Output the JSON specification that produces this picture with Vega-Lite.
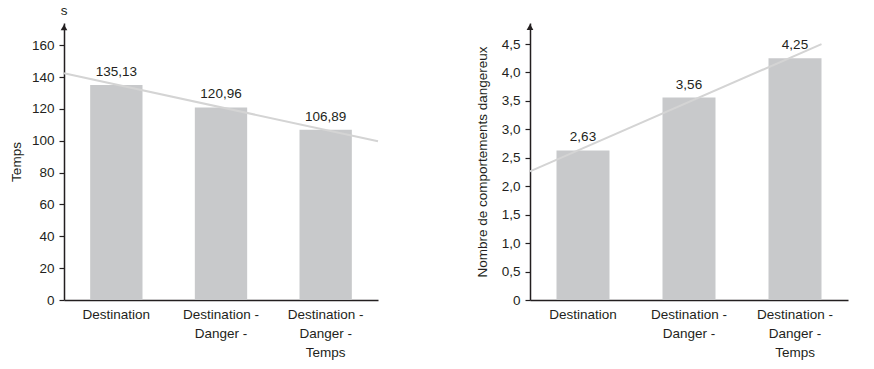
{
  "$schema": "https://vega.github.io/schema/vega-lite/v6.json",
  "padding": {"left": 9, "top": 4, "right": 5, "bottom": 5},
  "spacing": 93,
  "config": {
    "view": {"stroke": null},
    "font": "Liberation Sans",
    "locale": {"number": {"decimal": ",", "thousands": " ", "grouping": [3], "currency": ["", " €"]}},
    "axis": {
      "domainColor": "#231f20", "tickColor": "#231f20", "labelColor": "#231f20", "titleColor": "#231f20",
      "labelFont": "Liberation Sans", "titleFont": "Liberation Sans",
      "labelFontSize": 13.5, "titleFontSize": 13.5, "titleFontWeight": "normal", "labelOverlap": false,
      "grid": false, "domainWidth": 1.5, "tickWidth": 1.2, "tickSize": 5
    },
    "text": {"font": "Liberation Sans", "fontSize": 13.5, "color": "#231f20"}
  },
  "datasets": {
    "temps": [
      {"condition": "Destination", "value": 135.13},
      {"condition": "Destination - Danger -", "value": 120.96},
      {"condition": "Destination - Danger - Temps", "value": 106.89}
    ],
    "temps_trend": [{"pos": 0, "value": 142.4}, {"pos": 3, "value": 99.7}],
    "temps_marks": [{"pos": 0, "value": 171.3}],
    "temps_unit": [{"pos": 0, "value": 181.3, "unit": "s"}],
    "comp": [
      {"condition": "Destination", "value": 2.63},
      {"condition": "Destination - Danger -", "value": 3.56},
      {"condition": "Destination - Danger - Temps", "value": 4.25}
    ],
    "comp_trend": [{"pos": 0, "value": 2.26}, {"pos": 2.75, "value": 4.5}],
    "comp_marks": [{"pos": 0, "value": 4.8}]
  },
  "hconcat": [
    {
      "width": 314,
      "height": 277,
      "encoding": {
        "y": {
          "field": "value", "type": "quantitative",
          "scale": {"domain": [0, 174], "nice": false},
          "axis": {"title": "Temps", "values": [0, 20, 40, 60, 80, 100, 120, 140, 160], "tickCount": 9, "labelOverlap": false, "titlePadding": 8, "labelPadding": 5}
        }
      },
      "layer": [
        {
          "data": {"name": "temps"},
          "encoding": {
            "x": {
              "field": "condition", "type": "nominal", "sort": null,
              "scale": {"paddingInner": 0.5, "paddingOuter": 0.25},
              "axis": {"title": null, "labelAngle": 0, "ticks": false, "labelPadding": 7, "labelLineHeight": 19,
                       "labelExpr": "split(replace(datum.label, / - /g, ' -|'), '|')"}
            }
          },
          "layer": [
            {"mark": {"type": "bar", "color": "#c8c9cb"}},
            {"mark": {"type": "text", "baseline": "bottom", "dy": -6}, "encoding": {"text": {"field": "value", "type": "quantitative", "format": ".2f"}}}
          ]
        },
        {
          "encoding": {
            "x": {"field": "pos", "type": "quantitative", "scale": {"domain": [0, 3], "nice": false}, "axis": null}
          },
          "layer": [
            {
              "data": {"name": "temps_trend"},
              "mark": {"type": "line", "color": "#d4d4d4", "strokeWidth": 2}
            },
            {
              "data": {"name": "temps_marks"},
              "mark": {"type": "point", "shape": "triangle-up", "filled": true, "color": "#231f20", "size": 45, "opacity": 1}
            },
            {
              "data": {"name": "temps_unit"},
              "mark": {"type": "text", "align": "center", "baseline": "middle"},
              "encoding": {"text": {"field": "unit"}}
            }
          ]
        }
      ],
      "resolve": {"scale": {"x": "independent"}}
    },
    {
      "width": 318,
      "height": 277,
      "encoding": {
        "y": {
          "field": "value", "type": "quantitative",
          "scale": {"domain": [0, 4.87], "nice": false},
          "axis": {"title": "Nombre de comportements dangereux", "values": [0, 0.5, 1, 1.5, 2, 2.5, 3, 3.5, 4, 4.5], "tickCount": 10,
                   "format": ".1f", "labelExpr": "datum.value == 0 ? '0' : datum.label", "labelOverlap": false, "titlePadding": 12, "labelPadding": 5}
        }
      },
      "layer": [
        {
          "data": {"name": "comp"},
          "encoding": {
            "x": {
              "field": "condition", "type": "nominal", "sort": null,
              "scale": {"paddingInner": 0.5, "paddingOuter": 0.25},
              "axis": {"title": null, "labelAngle": 0, "ticks": false, "labelPadding": 7, "labelLineHeight": 19,
                       "labelExpr": "split(replace(datum.label, / - /g, ' -|'), '|')"}
            }
          },
          "layer": [
            {"mark": {"type": "bar", "color": "#c8c9cb"}},
            {"mark": {"type": "text", "baseline": "bottom", "dy": -6}, "encoding": {"text": {"field": "value", "type": "quantitative", "format": ".2f"}}}
          ]
        },
        {
          "encoding": {
            "x": {"field": "pos", "type": "quantitative", "scale": {"domain": [0, 3], "nice": false}, "axis": null}
          },
          "layer": [
            {
              "data": {"name": "comp_trend"},
              "mark": {"type": "line", "color": "#d4d4d4", "strokeWidth": 2}
            },
            {
              "data": {"name": "comp_marks"},
              "mark": {"type": "point", "shape": "triangle-up", "filled": true, "color": "#231f20", "size": 45, "opacity": 1}
            }
          ]
        }
      ],
      "resolve": {"scale": {"x": "independent"}}
    }
  ]
}
